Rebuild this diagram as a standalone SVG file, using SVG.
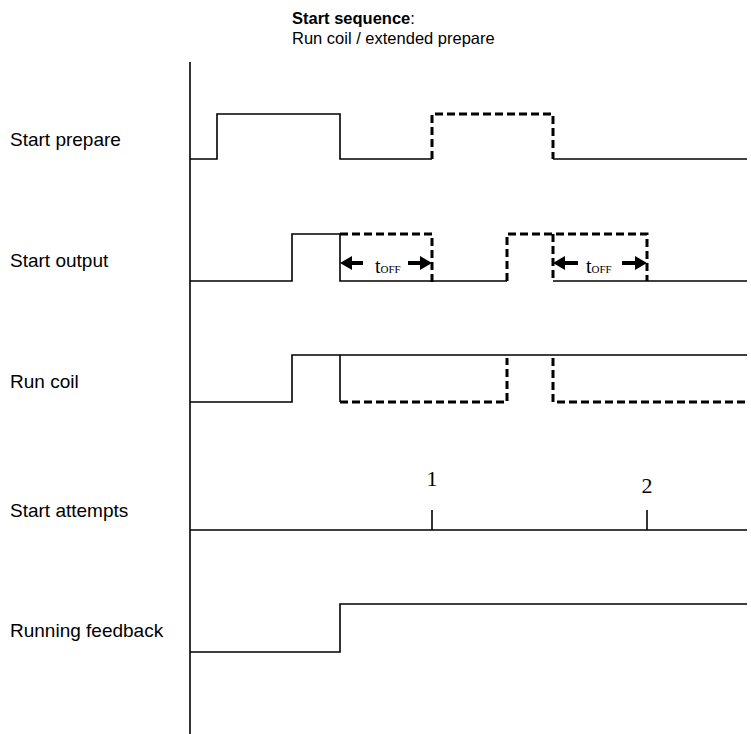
<svg xmlns="http://www.w3.org/2000/svg" width="751" height="734" viewBox="0 0 751 734">
<style>
.lbl{font-family:"Liberation Sans",Arial,sans-serif;font-size:19px;fill:#000}
.hdr{font-family:"Liberation Sans",Arial,sans-serif;font-size:16.5px;fill:#000}
.num{font-family:"Liberation Serif","Times New Roman",serif;font-size:22px;fill:#000}
.t{font-family:"Liberation Serif","Times New Roman",serif;fill:#000}
.s{fill:none;stroke:#000;stroke-width:1.6}
.d{fill:none;stroke:#000;stroke-width:3;stroke-dasharray:8 4}
.ah{fill:#000}
</style>
<rect width="751" height="734" fill="#fff"/>
<g id="header">
<text class="hdr" x="292" y="24"><tspan font-weight="bold">Start sequence</tspan>:</text>
<text class="hdr" x="292" y="44">Run coil / extended prepare</text>
</g>
<g id="axis">
<line class="s" x1="190" y1="62" x2="190" y2="734"/>
</g>
<g id="start-prepare">
<text class="lbl" x="10" y="146">Start prepare</text>
<polyline class="s" points="190,159 217,159 217,114 340,114 340,159 432,159"/>
<polyline class="d" points="432,159 432,114 553,114 553,159"/>
<line class="s" x1="553" y1="159" x2="747" y2="159"/>
</g>
<g id="start-output">
<text class="lbl" x="10" y="267">Start output</text>
<polyline class="s" points="190,281 292,281 292,234 340,234 340,281 507,281"/>
<line class="s" x1="553" y1="281" x2="747" y2="281"/>
<polyline class="d" points="340,234 432,234 432,283"/>
<polyline class="d" points="507,281 507,234 647,234 647,281"/>
<line class="d" x1="553" y1="234" x2="553" y2="281"/>
<g id="toff1">
<polygon class="ah" points="340,263 352,256 352,270"/>
<rect class="ah" x="351" y="261" width="12" height="4"/>
<rect class="ah" x="408" y="261" width="13" height="4"/>
<polygon class="ah" points="432,263 420,256 420,270"/>
<text class="t" x="375" y="273" font-size="20">t<tspan font-size="11">OFF</tspan></text>
</g>
<g id="toff2">
<polygon class="ah" points="553,263 565,256 565,270"/>
<rect class="ah" x="564" y="261" width="14" height="4"/>
<rect class="ah" x="622" y="261" width="14" height="4"/>
<polygon class="ah" points="647,263 635,256 635,270"/>
<text class="t" x="586" y="273" font-size="20">t<tspan font-size="11">OFF</tspan></text>
</g>
</g>
<g id="run-coil">
<text class="lbl" x="10" y="388">Run coil</text>
<polyline class="s" points="190,402 292,402 292,355 747,355"/>
<line class="s" x1="340" y1="355" x2="340" y2="402"/>
<polyline class="d" points="340,402 507,402 507,358"/>
<polyline class="d" points="553,358 553,402 747,402"/>
</g>
<g id="start-attempts">
<text class="lbl" x="10" y="517">Start attempts</text>
<line class="s" x1="190" y1="530" x2="747" y2="530"/>
<line class="s" x1="432" y1="510" x2="432" y2="530"/>
<line class="s" x1="647" y1="510" x2="647" y2="530"/>
<text class="num" x="432" y="486" text-anchor="middle">1</text>
<text class="num" x="647" y="493" text-anchor="middle">2</text>
</g>
<g id="running-feedback">
<text class="lbl" x="10" y="637">Running feedback</text>
<polyline class="s" points="190,652 340,652 340,604 747,604"/>
</g>
</svg>
